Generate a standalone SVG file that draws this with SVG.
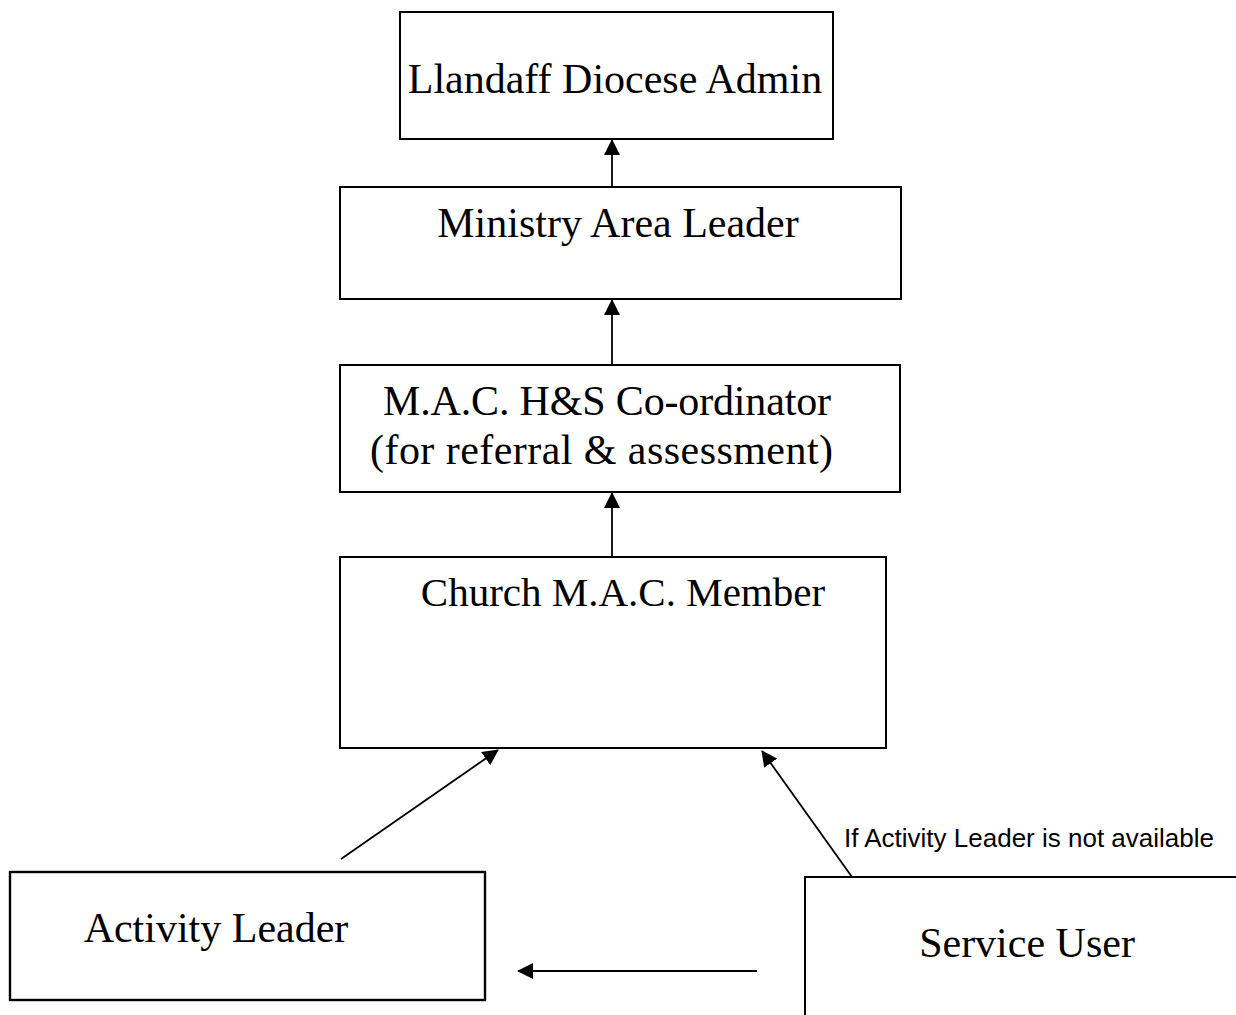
<svg xmlns="http://www.w3.org/2000/svg" width="1236" height="1015" viewBox="0 0 1236 1015">
<style>
.box{fill:#fff;stroke:#000;stroke-width:2}
.t{font-family:"Liberation Serif","Times New Roman",serif;font-size:42px;fill:#000}
.lbl{font-family:"Liberation Sans",Arial,sans-serif;font-size:26px;fill:#000}
.c{stroke:#000;stroke-width:1.8;fill:none;marker-end:url(#ah)}
</style>
<defs>
<marker id="ah" viewBox="0 0 16 16" refX="15" refY="8" markerWidth="16" markerHeight="16" markerUnits="userSpaceOnUse" orient="auto">
<path d="M0,0 L16,8 L0,16 Z" fill="#000"/>
</marker>
</defs>
<rect width="1236" height="1015" fill="#fff"/>
<g id="n-llandaff"><rect class="box" x="400" y="12" width="433" height="127"/><text class="t" x="615" y="93" text-anchor="middle">Llandaff Diocese Admin</text></g>
<g id="n-mal"><rect class="box" x="340" y="187" width="561" height="112"/><text class="t" x="618" y="237" text-anchor="middle">Ministry Area Leader</text></g>
<g id="n-mac"><rect class="box" x="340" y="365" width="560" height="127"/><text class="t" x="383" y="415" textLength="448">M.A.C. H&amp;S Co-ordinator</text><text class="t" x="370" y="464" textLength="463">(for referral &amp; assessment)</text></g>
<g id="n-church"><rect class="box" x="340" y="557" width="546" height="191"/><text class="t" x="623" y="606" text-anchor="middle" style="font-size:41px">Church M.A.C. Member</text></g>
<g id="n-activity"><rect class="box" x="10" y="872" width="475" height="128" style="stroke-width:2.4"/><text class="t" x="216" y="942" text-anchor="middle">Activity Leader</text></g>
<g id="n-service"><rect class="box" x="805" y="877" width="440" height="150"/><text class="t" x="1027" y="957" text-anchor="middle">Service User</text></g>
<g id="connectors">
<line class="c" x1="612" y1="187" x2="612" y2="140"/>
<line class="c" x1="612" y1="365" x2="612" y2="300"/>
<line class="c" x1="612" y1="557" x2="612" y2="493"/>
<line class="c" x1="341" y1="859" x2="498" y2="750"/>
<line class="c" x1="852" y1="877" x2="762" y2="751"/>
<line class="c" x1="757" y1="971" x2="518" y2="971" style="stroke-width:2.2"/>
<text class="lbl" x="844" y="847">If Activity Leader is not available</text>
</g>
</svg>
